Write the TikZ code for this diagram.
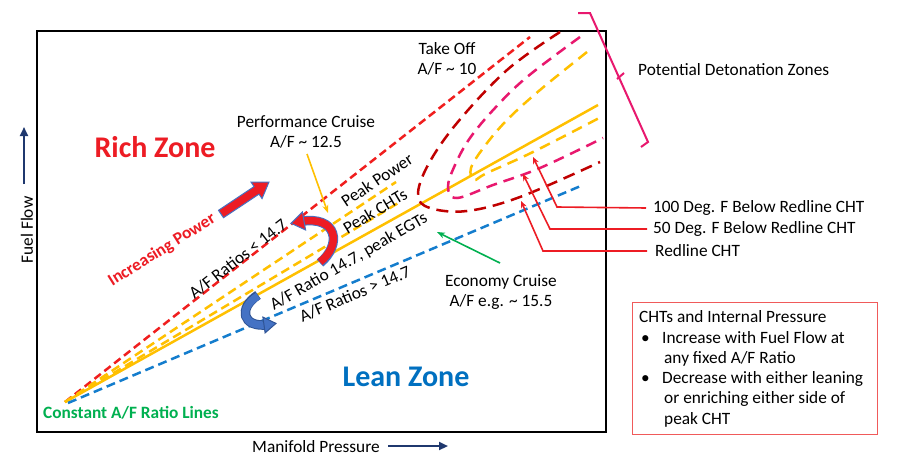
\documentclass[tikz,border=0pt]{standalone}
\usepackage{fontspec}
\setmainfont{Carlito}
\usetikzlibrary{arrows.meta}
\definecolor{redA}{RGB}{237,28,36}
\definecolor{rline}{RGB}{240,30,30}
\definecolor{dred}{RGB}{192,0,0}
\definecolor{pinkA}{RGB}{232,24,110}
\definecolor{yel}{RGB}{255,192,0}
\definecolor{blueL}{RGB}{20,125,205}
\definecolor{leanblue}{RGB}{0,112,192}
\definecolor{greenA}{RGB}{0,176,80}
\definecolor{navy}{RGB}{31,56,110}
\definecolor{abl}{RGB}{68,114,196}
\definecolor{abd}{RGB}{47,84,150}
\definecolor{boxred}{RGB}{240,90,90}
\tikzset{
 lbl/.style={font=\fontsize{17.3}{20}\selectfont, inner sep=0pt, align=center},
 lblb/.style={font=\fontsize{17.3}{20}\selectfont\bfseries, inner sep=0pt},
 big/.style={font=\fontsize{30}{34}\selectfont\bfseries, inner sep=0pt},
 ray/.style={line width=2.5pt},
 reddash/.style={ray, draw=rline, dash pattern=on 8pt off 4.5pt},
 yeldash/.style={ray, draw=yel, dash pattern=on 9pt off 5pt},
 yelsolid/.style={ray, draw=yel},
 bluedash/.style={ray, draw=blueL, dash pattern=on 9pt off 5pt},
 udred/.style={line width=2.5pt, draw=dred, dash pattern=on 12pt off 7pt},
 upink/.style={line width=2.5pt, draw=pinkA, dash pattern=on 11pt off 7pt},
 uyel/.style={line width=2.5pt, draw=yel, dash pattern=on 11pt off 7pt},
 callout/.style={draw=redA, line width=1.6pt, -{Stealth[length=7pt,width=6pt]}},
 axisarr/.style={draw=navy, line width=2.2pt, -{Triangle[length=9pt,width=8pt]}},
 thinarr/.style={line width=1.6pt, -{Stealth[length=8pt,width=6pt]}},
}
\begin{document}
\begin{tikzpicture}[x=1pt,y=-1pt]
\fill[white] (0,0) rectangle (900,471);
\useasboundingbox (0,0) rectangle (900,471);

% frame
\node[draw, line width=2pt, minimum width=569pt, minimum height=401pt, inner sep=0pt, anchor=north west] (frame) at (36,30) {};

% rays
\coordinate (o) at (65,402);
\coordinate (ob) at (68,403);
\coordinate (rEnd) at (530,37);
\coordinate (y1End) at (396,182);
\coordinate (y2End) at (400,202);
\coordinate (ysEnd) at (598,105);
\coordinate (bEnd) at (583,185);
\draw[reddash] (o) -- (rEnd);
\draw[yeldash] (o) -- (y1End);
\draw[yeldash] (o) -- (y2End);
\draw[yelsolid] (o) -- (ysEnd);
\draw[bluedash] (ob) -- (bEnd);

% detonation curves
\draw[udred] plot[smooth, tension=0.6] coordinates {(560,32) (507,70) (457,123) (428,165) (418,195) (430,208) (467,211) (520,197) (600,162)};
\draw[upink] plot[smooth, tension=0.6] coordinates {(580,37) (527,77) (495,108) (470,138) (455,165) (448,187) (457,198) (493,185) (540,168) (603,138)};
\draw[uyel] plot[smooth, tension=0.6] coordinates {(587,52) (540,90) (507,120) (484,147) (471,168) (474,180) (487,173) (533,152) (603,116)};

% bracket
\draw[draw=pinkA, line width=2pt] (578,13) -- (590,13) -- (648,142) -- (641,147);
\draw[draw=pinkA, line width=2pt] (617,79) -- (624,73);
\node[lbl, anchor=west] (pdz) at (638,70) {Potential Detonation Zones};

% callouts
\node[lbl, anchor=west] (l100) at (653,208) {100 Deg. F Below Redline CHT};
\node[lbl, anchor=west] (l50) at (653,229) {50 Deg. F Below Redline CHT};
\node[lbl, anchor=west] (lred) at (655,251) {Redline CHT};
\coordinate (k100) at (557,207); \coordinate (t100) at (533,157);
\coordinate (k50) at (550,229); \coordinate (t50) at (523,174);
\coordinate (kred) at (543,251); \coordinate (tred) at (521,201);
\draw[callout] ([xshift=-7pt]l100.west) -- (k100) -- (t100);
\draw[callout] ([xshift=-6pt]l50.west) -- (k50) -- (t50);
\draw[callout] ([xshift=-8pt]lred.west) -- (kred) -- (tred);

% zone labels
\node[big, text=redA] (rich) at (155,147) {Rich Zone};
\node[big, text=leanblue] (lean) at (406,377) {Lean Zone};
\node[lblb, text=greenA] (const) at (131,413) {Constant A/F Ratio Lines};
\node[lblb, text=redA, rotate=32] (incp) at (162,250) {Increasing Power};

% cruise labels
\node[lbl] (takeoff) at (447,59) {Take Off\\A/F \textasciitilde{} 10};
\node[lbl] (perf) at (306,132) {Performance Cruise\\A/F \textasciitilde{} 12.5};
\node[lbl] (econ) at (501,292) {Economy Cruise\\A/F e.g. \textasciitilde{} 15.5};
\coordinate (ptip) at (328,213);
\coordinate (ptail) at (307,154);
\draw[thinarr, draw=yel] (ptail) -- (ptip);
\coordinate (etail) at (500,263);
\coordinate (etip) at (437,232);
\draw[thinarr, draw=greenA] (etail) -- (etip);

% ray labels
\node[lbl, rotate=38] (lt) at (238,259) {A/F Ratios < 14.7};
\node[lbl, rotate=33.5] (pp) at (377,180) {Peak Power};
\node[lbl, rotate=31] (pc) at (375,211) {Peak CHTs};
\node[lbl, rotate=30] (st) at (349,262) {A/F Ratio 14.7, peak EGTs};
\node[lbl, rotate=23] (gt) at (355,294) {A/F Ratios > 14.7};

% increasing power arrow
\filldraw[fill=redA, draw=abl, line width=1pt] (218.5,210.3) -- (254,186.6) -- (250.95,182.0) -- (269,182) -- (262.05,198.6) -- (259,194.1) -- (223.5,217.7) -- cycle;

% red curved arrow
\draw[line width=9.5pt, draw=abl] (320,263) .. controls (342,245) and (338,215) .. (300,221.5);
\draw[line width=7.5pt, draw=redA] (320,262) .. controls (342,245) and (338,215) .. (300,221.5);
\filldraw[fill=redA, draw=abl, line width=1pt] (291,223.3) -- (305.6,230) -- (302.4,212) -- cycle;

% blue curved arrow
\draw[line width=9.5pt, draw=abd] (258,295) .. controls (238,308) and (242,328) .. (268,324.7);
\draw[line width=7.5pt, draw=abl] (258,296) .. controls (238,308) and (242,328) .. (268,324.7);
\filldraw[fill=abl, draw=abd, line width=1pt] (276,323.4) -- (265.1,332.9) -- (262.9,317.1) -- cycle;

% axes
\node[lbl, rotate=90] (fuel) at (27,230) {Fuel Flow};
\coordinate (fa) at (24,184); \coordinate (fb) at (24,127);
\draw[axisarr] (fa) -- (fb);
\node[lbl] (manif) at (316,447) {Manifold Pressure};
\coordinate (ma) at (388,446); \coordinate (mb) at (448,446);
\draw[axisarr] (ma) -- (mb);

% CHT box
\node[draw=boxred, line width=1.2pt, minimum width=245pt, minimum height=132pt, inner sep=0pt, anchor=north west] (chtbox) at (632,302) {};
\node[lbl, anchor=base west] (c1) at (639,322.5) {CHTs and Internal Pressure};
\node[lbl, anchor=base west] (b1) at (641,343) {\textbullet};
\node[lbl, anchor=base west] (c2) at (662,343) {Increase with Fuel Flow at};
\node[lbl, anchor=base west] (c3) at (664,363) {any fixed A/F Ratio};
\node[lbl, anchor=base west] (b2) at (641,383) {\textbullet};
\node[lbl, anchor=base west] (c4) at (662,383) {Decrease with either leaning};
\node[lbl, anchor=base west] (c5) at (664,403.5) {or enriching either side of};
\node[lbl, anchor=base west] (c6) at (664,424) {peak CHT};
\end{tikzpicture}
\end{document}
